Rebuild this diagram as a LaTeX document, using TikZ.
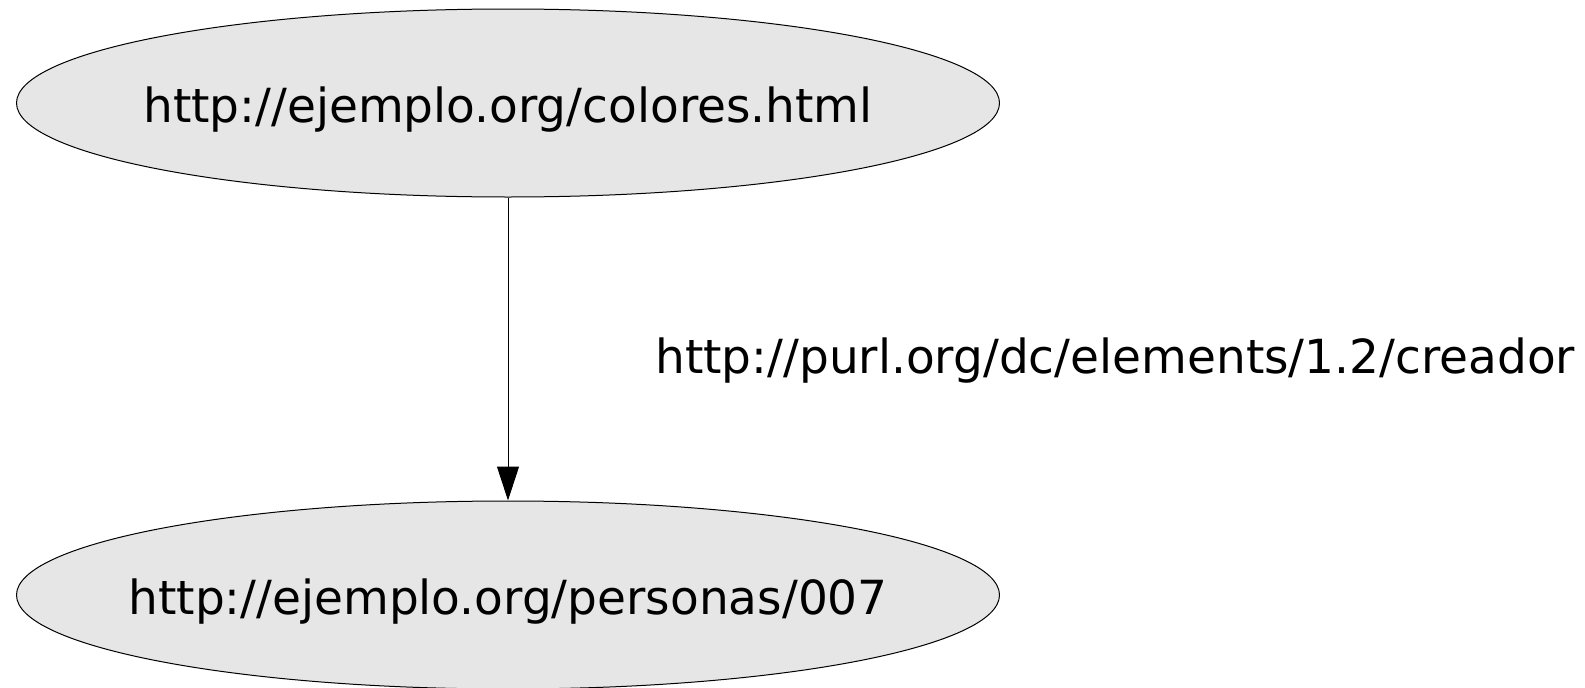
\documentclass[tikz,border=0pt]{standalone}
\usepackage{fontspec}
\setmainfont{DejaVu Sans}
\usepackage{tikz}
\usetikzlibrary{arrows.meta,shapes.geometric,positioning}
\definecolor{nodefill}{RGB}{230,230,230}
\tikzstyle{resource} = [ellipse, draw, line width=1pt, fill=nodefill, inner xsep=-40pt, inner ysep=0pt, text height=49pt, text depth=11pt, minimum width=983, minimum height=188, font=\fontsize{47}{56}\selectfont]
\tikzset{edge/.style = {
    line width=1pt,
    -{Triangle[length=34pt, width=22pt]},
  }
}

\begin{document}
\begin{tikzpicture}[x=1pt, y=-1pt]
          \useasboundingbox (0,0) rectangle (1585,688);
          % vertices
          \node[resource] (colores) at (508,103) {http://ejemplo.org/colores.html};
          \node[resource] (persona) at (508,595) {http://ejemplo.org/personas/007};

          % edges
          \draw[edge] (colores) -- (persona);
          \node[anchor=base west, inner sep=0pt, font=\fontsize{47}{56}\selectfont] (creador) at (655,373) {http://purl.org/dc/elements/1.2/creador};
\end{tikzpicture}
\end{document}
